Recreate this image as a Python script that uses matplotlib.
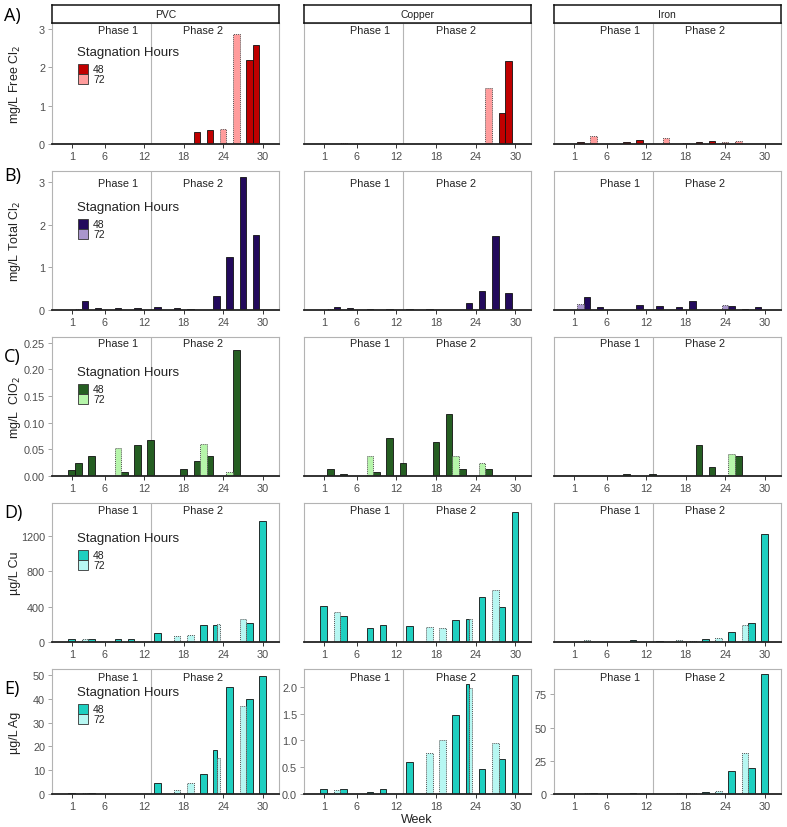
import matplotlib
matplotlib.use("Agg")
import matplotlib.pyplot as plt
from matplotlib.patches import Rectangle

plt.rcParams['font.family'] = ['Liberation Sans', 'DejaVu Sans']

# ---- data: (weeks, values) per panel and stagnation time ----
A_PVC_48 = ([2, 4, 20, 22, 28, 29], [0.01, 0.01, 0.32, 0.37, 2.19, 2.57])
A_PVC_72 = ([24, 26], [0.38, 2.86])
A_CU_48 = ([2, 28, 29], [0.01, 0.82, 2.17])
A_CU_72 = ([4, 26], [0.02, 1.46])
A_FE_48 = ([2, 6, 9, 11, 20, 22], [0.06, 0.01, 0.04, 0.10, 0.04, 0.07])
A_FE_72 = ([4, 15, 18, 24, 26], [0.21, 0.16, 0.03, 0.06, 0.08])

B_PVC_48 = ([3, 5, 8, 11, 14, 17, 19, 23, 25, 27, 29],
            [0.22, 0.04, 0.04, 0.04, 0.06, 0.05, 0.02, 0.34, 1.25, 3.13, 1.77])
B_PVC_72 = ([2], [0.02])
B_CU_48 = ([3, 5, 8, 11, 14, 17, 23, 25, 27, 29],
           [0.08, 0.04, 0.03, 0.03, 0.03, 0.03, 0.17, 0.45, 1.75, 0.39])
B_CU_72 = ([2], [0.03])
B_FE_48 = ([3, 5, 11, 14, 17, 19, 25, 27, 29],
           [0.30, 0.08, 0.11, 0.09, 0.08, 0.20, 0.09, 0.02, 0.07])
B_FE_72 = ([2, 24], [0.13, 0.12])

C_PVC_48 = ([1, 2, 4, 9, 11, 13, 18, 20, 22, 26],
            [0.011, 0.024, 0.038, 0.008, 0.058, 0.068, 0.014, 0.028, 0.037, 0.236])
C_PVC_72 = ([8, 21, 25], [0.052, 0.061, 0.0075])
C_CU_48 = ([2, 4, 9, 11, 13, 18, 20, 22, 26],
           [0.014, 0.004, 0.008, 0.071, 0.024, 0.064, 0.117, 0.014, 0.014])
C_CU_72 = ([8, 21, 25], [0.037, 0.037, 0.024])
C_FE_48 = ([9, 13, 20, 22, 26], [0.003, 0.003, 0.058, 0.016, 0.038])
C_FE_72 = ([25], [0.041])

D_PVC_48 = ([1, 4, 8, 10, 14, 21, 23, 28, 30], [34, 34, 30, 34, 105, 188, 196, 214, 1366])
D_PVC_72 = ([3, 17, 19, 23, 27], [34, 72, 79, 205, 260])
D_CU_48 = ([1, 4, 8, 10, 14, 21, 23, 25, 28, 30],
           [403, 290, 154, 192, 184, 252, 263, 512, 399, 1471])
D_CU_72 = ([3, 17, 19, 23, 27], [339, 173, 158, 256, 591])
D_FE_48 = ([1, 4, 8, 10, 14, 21, 25, 28, 30], [5, 5, 5, 22, 15, 38, 117, 214, 1226])
D_FE_72 = ([3, 17, 19, 23, 27], [26, 22, 15, 49, 188])

E_PVC_48 = ([1, 4, 8, 10, 14, 21, 23, 25, 28, 30],
            [0.4, 0.4, 0.2, 0.2, 4.6, 8.5, 18.5, 45, 39.8, 49.7])
E_PVC_72 = ([3, 17, 19, 23, 27], [0.3, 1.8, 4.5, 15.2, 37])
E_CU_48 = ([1, 4, 8, 10, 14, 21, 23, 25, 28, 30],
           [0.1, 0.1, 0.03, 0.1, 0.6, 1.48, 2.05, 0.46, 0.66, 2.21])
E_CU_72 = ([3, 17, 19, 23, 27], [0.07, 0.76, 1.0, 1.97, 0.95])
E_FE_48 = ([4, 10, 21, 25, 28, 30], [0.5, 0.5, 1.5, 17.5, 19.5, 90])
E_FE_72 = ([3, 17, 19, 23, 27], [0.8, 0.5, 0.5, 2, 30.5])

materials = ["PVC", "Copper", "Iron"]
row_letters = ["A)", "B)", "C)", "D)", "E)"]
row_ylabels = ["mg/L Free Cl$_2$", "mg/L Total Cl$_2$", "mg/L  ClO$_2$", "µg/L Cu", "µg/L Ag"]
row_data = [
    [(A_PVC_48, A_PVC_72), (A_CU_48, A_CU_72), (A_FE_48, A_FE_72)],
    [(B_PVC_48, B_PVC_72), (B_CU_48, B_CU_72), (B_FE_48, B_FE_72)],
    [(C_PVC_48, C_PVC_72), (C_CU_48, C_CU_72), (C_FE_48, C_FE_72)],
    [(D_PVC_48, D_PVC_72), (D_CU_48, D_CU_72), (D_FE_48, D_FE_72)],
    [(E_PVC_48, E_PVC_72), (E_CU_48, E_CU_72), (E_FE_48, E_FE_72)],
]
row_colors = [("#C00000", "#FF9C9C"), ("#230A5C", "#A996CC"), ("#255E22", "#B6F5AA"),
              ("#1ECFC0", "#B7F7F2"), ("#1ECFC0", "#B7F7F2")]
week_ticks = [1, 6, 12, 18, 24, 30]

# ---- layout (pixels) ----
W, H = 787, 828
fig = plt.figure(figsize=(W / 100, H / 100), dpi=100)

def box(l, t, r, b):
    return [l / W, 1 - b / H, (r - l) / W, (b - t) / H]

cols = [(52, 278.5), (304, 531), (554, 780.5)]
rows = [(24, 145), (172, 311), (338, 477), (504, 643), (670, 795)]
ylims = [[3.15] * 3, [3.27] * 3, [0.261] * 3, [1573] * 3, [52.5, 2.33, 94]]
yticks = [[[0, 1, 2, 3]] * 3, [[0, 1, 2, 3]] * 3,
          [[0, 0.05, 0.10, 0.15, 0.20, 0.25]] * 3, [[0, 400, 800, 1200]] * 3,
          [[0, 10, 20, 30, 40, 50], [0.0, 0.5, 1.0, 1.5, 2.0], [0, 25, 50, 75]]]
yfmt = [["{:g}"] * 3, ["{:g}"] * 3, ["{:.2f}"] * 3, ["{:g}"] * 3, ["{:g}", "{:.1f}", "{:g}"]]
phase_off = [7, 12, 6, 7, 8]
legend_y = [53, 208, 373, 539, 693]
letter_y = [16, 176, 357, 513, 689]

grey = "#4D4D4D"

for r, (top, bot) in enumerate(rows):
    c48, c72 = row_colors[r]
    for c, (left, right) in enumerate(cols):
        ax = fig.add_axes(box(left, top, right, bot))
        s48, s72 = row_data[r][c]
        both = set(s48[0]) & set(s72[0])
        x48 = [w - 0.25 if w in both else w for w in s48[0]]
        w48 = [0.5 if w in both else 1.0 for w in s48[0]]
        x72 = [w + 0.25 if w in both else w for w in s72[0]]
        w72 = [0.5 if w in both else 1.0 for w in s72[0]]
        ax.bar(x48, s48[1], width=w48, color=c48, edgecolor="#111111", linewidth=0.6, zorder=2)
        ax.bar(x72, s72[1], width=w72, color=c72, edgecolor="#555555", linewidth=0.7,
               linestyle=(0, (1, 1)), zorder=2)
        ax.axvline(13, color="#B5B5B5", lw=0.8, zorder=1)
        ax.set_xlim(-2, 32.4)
        ax.set_ylim(0, ylims[r][c])
        for s in ["left", "right", "top"]:
            ax.spines[s].set_color("#B3B3B3")
            ax.spines[s].set_linewidth(0.8)
        ax.spines["bottom"].set_color("#222222")
        ax.spines["bottom"].set_linewidth(1.3)
        ax.spines["bottom"].set_zorder(5)
        ax.set_xticks(week_ticks)
        ax.tick_params(axis="x", labelsize=7.8, labelcolor=grey, color="#333333",
                       length=3, width=0.7, pad=2)
        if c == 0 or r == 4:
            ax.set_yticks(yticks[r][c])
            ax.set_yticklabels([yfmt[r][c].format(v) for v in yticks[r][c]])
            ax.tick_params(axis="y", labelsize=7.8, labelcolor=grey, color="#999999",
                           length=3, width=0.6, pad=2)
        else:
            ax.set_yticks([])
        ax.set_facecolor("white")

        # phase labels
        ty = 1 - phase_off[r] / (bot - top)
        ax.text(8, ty, "Phase 1", transform=ax.get_xaxis_transform(), ha="center",
                va="center", fontsize=7.8, color="#222222")
        ax.text(21, ty, "Phase 2", transform=ax.get_xaxis_transform(), ha="center",
                va="center", fontsize=7.8, color="#222222")

        if r == 0:
            sax = fig.add_axes(box(left, 6, right, 24))
            sax.set_xticks([])
            sax.set_yticks([])
            for s in sax.spines.values():
                s.set_color("#111111")
                s.set_linewidth(1.1)
            sax.text(0.5, 0.5, materials[c], ha="center", va="center", fontsize=7.5,
                     color="#222222", transform=sax.transAxes)

    # y label and row letter
    fig.text(15 / W, 1 - (top + bot) / 2 / H, row_ylabels[r], rotation=90, ha="center",
             va="center", fontsize=9, color="#222222")
    fig.text(4 / W, 1 - letter_y[r] / H, row_letters[r], ha="left", va="center",
             fontsize=13, family=["Open Sans", "DejaVu Sans"], color="black")

    # legend
    ly = legend_y[r]
    fig.text(77 / W, 1 - ly / H, "Stagnation Hours", ha="left", va="center",
             fontsize=9.5, color="#222222")
    for k, (col, lab) in enumerate([(c48, "48"), (c72, "72")]):
        y0 = ly + 12 + 10 * k
        fig.patches.append(Rectangle((78 / W, 1 - (y0 + 10) / H), 10 / W, 10 / H,
                                     transform=fig.transFigure, facecolor=col,
                                     edgecolor="#333333", linewidth=0.6, zorder=5))
        fig.text(93 / W, 1 - (y0 + 5) / H, lab, ha="left", va="center", fontsize=7.5,
                 color="#222222")

fig.text(417 / W, 1 - 820 / H, "Week", ha="center", va="center", fontsize=9, color="#222222")

fig.savefig("out.png", dpi=100)
